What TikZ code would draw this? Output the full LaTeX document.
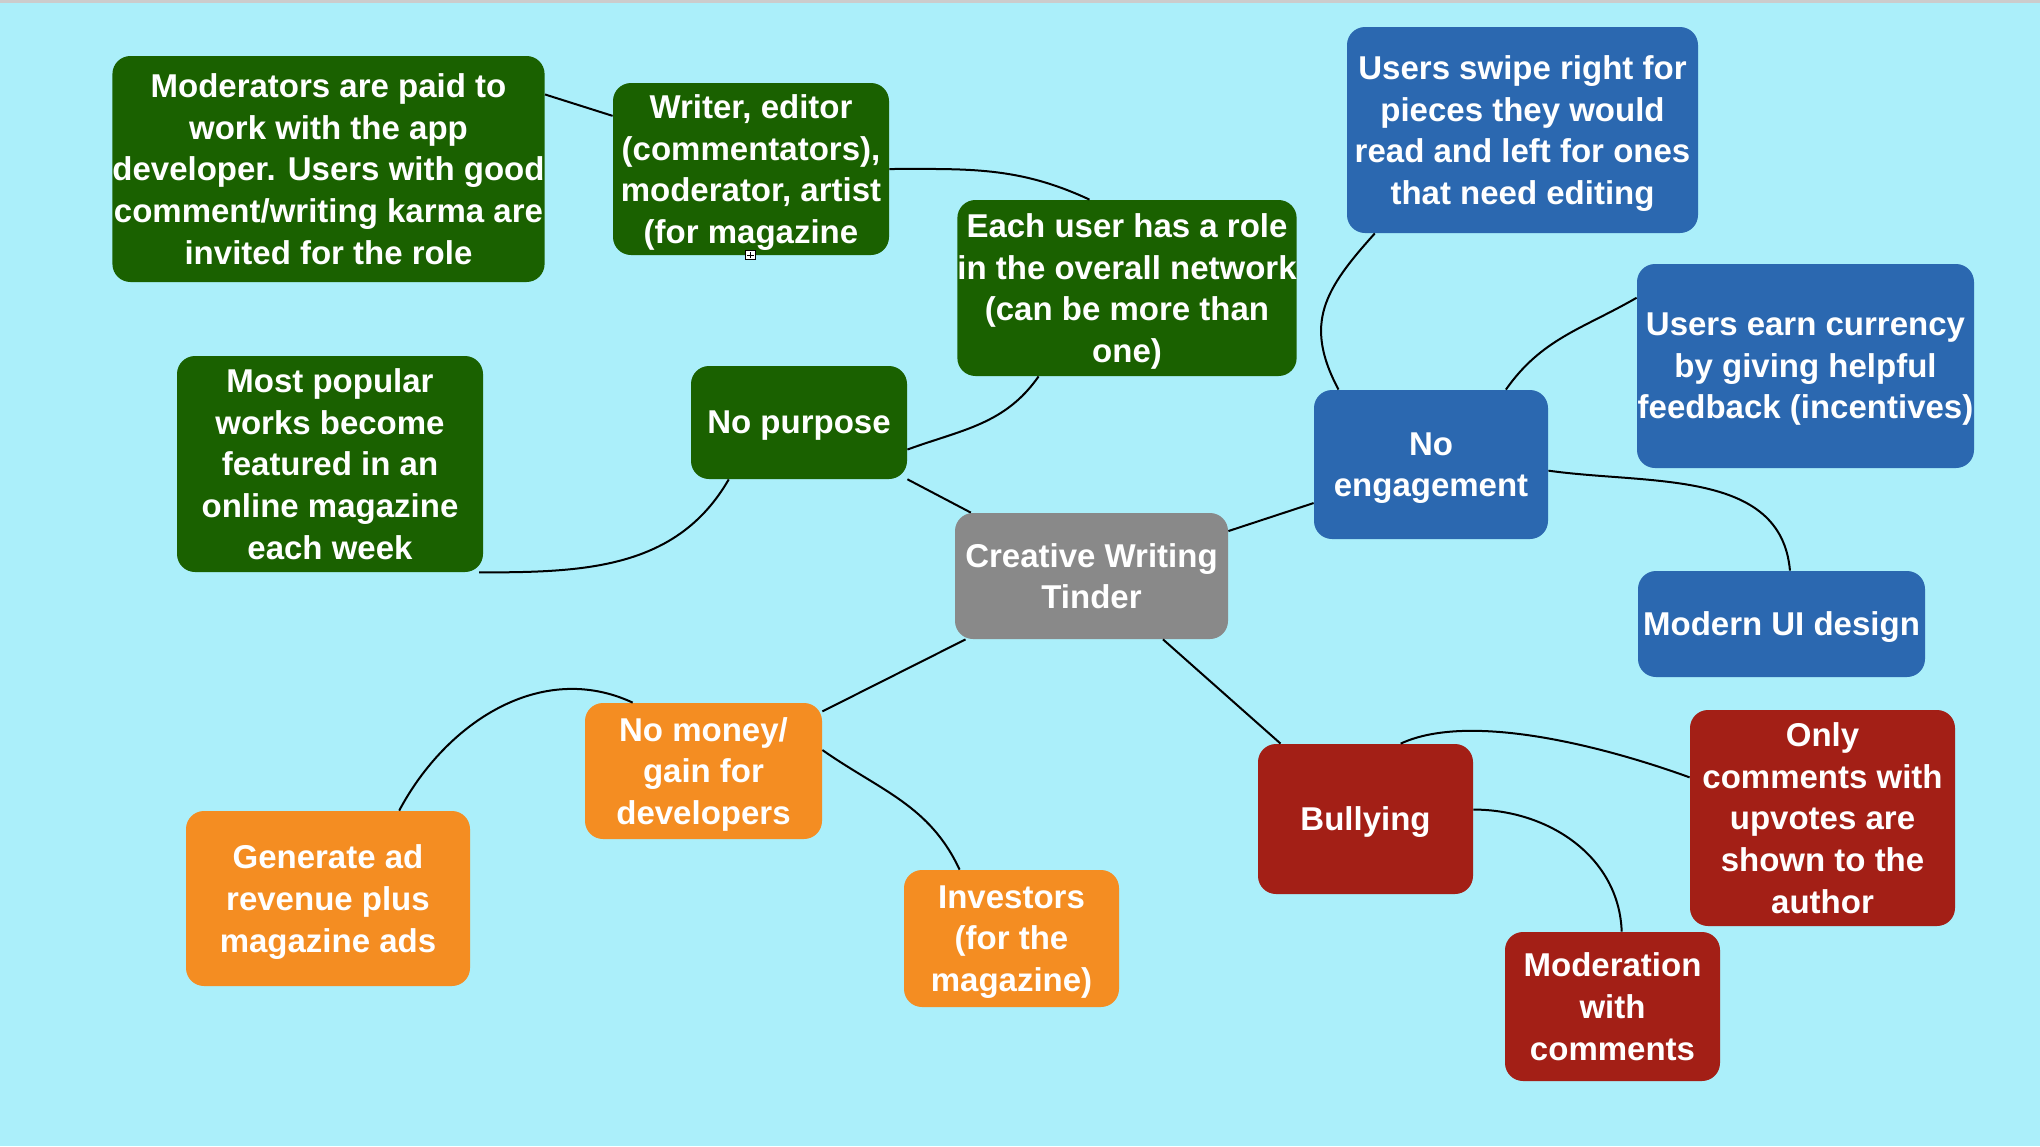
\documentclass[tikz,border=0pt]{standalone}
\usepackage{fontspec}
\setmainfont{Liberation Sans}
\usepackage{xcolor}
\definecolor{bgcyan}{RGB}{171,239,250}
\definecolor{mmgreen}{RGB}{26,97,0}
\definecolor{mmblue}{RGB}{43,104,176}
\definecolor{mmgray}{RGB}{137,137,137}
\definecolor{mmorange}{RGB}{244,141,34}
\definecolor{mmred}{RGB}{163,31,22}

\begin{document}
\begin{tikzpicture}[x=0.5pt, y=-0.5pt,
			mnode/.style={rectangle, rounded corners=9pt, text=white, inner sep=0pt, text depth=0pt, align=center, font=\fontsize{16.5}{20.8}\selectfont\bfseries},
			grn/.style={mnode, fill=mmgreen},
			blu/.style={mnode, fill=mmblue},
			gry/.style={mnode, fill=mmgray},
			org/.style={mnode, fill=mmorange},
			rd/.style={mnode, fill=mmred},
			link/.style={black, line width=1pt}
				]
			\useasboundingbox (0,0) rectangle (2040,1146);
			\fill[bgcyan] (0,0) rectangle (2040,1146);
			\fill[black!20] (0,0) rectangle (2040,3);

			\node[gry, minimum width=136.5pt, minimum height=63pt] at (1091.5,576) (cwt) {Creative Writing\\Tinder};

			%purpose
			\node[grn, minimum width=108pt, minimum height=56.5pt] at (799,422.5) (npur) {No purpose};
			\node[grn, minimum width=215.5pt, minimum height=113pt] at (328.5,169) (mod) {Moderators are paid to\\work with the app\\developer. Users with good\\comment/writing karma are\\invited for the role};
			\node[grn, minimum width=138pt, minimum height=86pt] at (751,169) (wri) {Writer, editor\\(commentators),\\moderator, artist\\(for magazine};
			\node[grn, minimum width=169pt, minimum height=88pt] at (1127,288) (each) {Each user has a role\\in the overall network\\(can be more than\\one)};
			\node[grn, minimum width=153pt, minimum height=108pt] at (330,464) (pop) {Most popular\\works become\\featured in an\\online magazine\\each week};
			\node[draw=black, fill=white, line width=0.4pt, minimum width=5pt, minimum height=4.5pt, inner sep=0pt] at (750.5,255) (fold) {};
			\draw[line width=0.4pt] ([xshift=-1.6pt]fold.center) -- ([xshift=1.6pt]fold.center) ([yshift=-1.5pt]fold.center) -- ([yshift=1.5pt]fold.center);

			%engagement
			\node[blu, minimum width=117pt, minimum height=74.5pt] at (1431,464.5) (neng) {No\\engagement};
			\node[blu, minimum width=175.5pt, minimum height=103pt] at (1522.5,130) (swipe) {Users swipe right for\\pieces they would\\read and left for ones\\that need editing};
			\node[blu, minimum width=168.5pt, minimum height=102pt] at (1805.5,366) (earn) {Users earn currency\\by giving helpful\\feedback (incentives)};
			\node[blu, minimum width=143.5pt, minimum height=53pt] at (1781.5,624) (mui) {Modern UI design};

			%money
			\node[org, minimum width=118.5pt, minimum height=68pt] at (703.5,771) (nmon) {No money/\\gain for\\developers};
			\node[org, minimum width=142pt, minimum height=87.5pt] at (328,898.5) (gen) {Generate ad\\revenue plus\\magazine ads};
			\node[org, minimum width=107.5pt, minimum height=68.5pt] at (1011.5,938.5) (inv) {Investors\\(for the\\magazine)};

			%bullying
			\node[rd, minimum width=107.5pt, minimum height=75pt] at (1365.5,819) (bul) {Bullying};
			\node[rd, minimum width=132.5pt, minimum height=108pt] at (1822.5,818) (only) {Only\\comments with\\upvotes are\\shown to the\\author};
			\node[rd, minimum width=107.5pt, minimum height=74.5pt] at (1612.5,1006.5) (mwc) {Moderation\\with\\comments};

			%links
			\draw[link] (mod.19) -- (wri.159);
			\draw[link] (wri.0) to[out=0,in=155] (each.113);
			\draw[link] (npur.-14) to[out=20,in=235] (each.-135);
			\draw[link] (npur.-141) to[out=240,in=0] (pop.-36);
			\draw[link] (npur) -- (cwt);
			\draw[link] (cwt) -- (neng);
			\draw[link] (neng.141) to[out=118,in=228,looseness=1.2] (swipe.215);
			\draw[link] (neng.45) to[out=55,in=210] (earn.158);
			\draw[link] (neng.-3) to[out=-8,in=95] (mui.81);
			\draw[link] (cwt) -- (nmon);
			\draw[link] (nmon.136) to[out=155,in=62] (gen.51);
			\draw[link] (nmon.10) to[out=-35,in=115] (inv.127);
			\draw[link] (cwt) -- (bul);
			\draw[link] (bul.65) to[out=25,in=160,looseness=0.7] (only.163);
			\draw[link] (bul.5) to[out=0,in=92] (mwc.83);
	\end{tikzpicture}
\end{document}
